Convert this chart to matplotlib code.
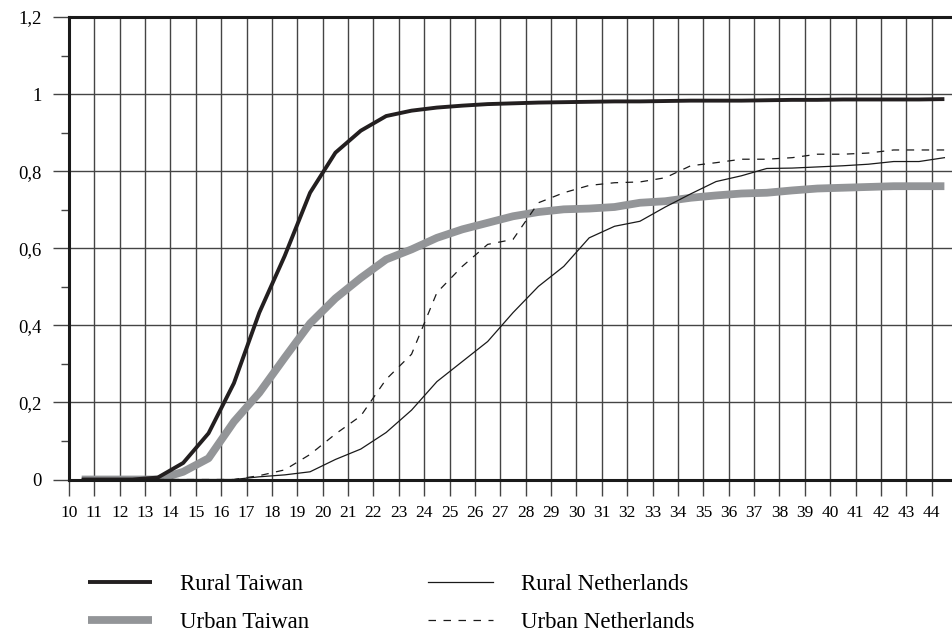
import matplotlib
matplotlib.use("Agg")
import matplotlib.pyplot as plt
from matplotlib.ticker import FixedLocator, FixedFormatter

plt.rcParams['font.family'] = ['Liberation Serif', 'DejaVu Serif']

# ---- data ----
ages = [10.5, 11.5, 12.5, 13.5, 14.5, 15.5, 16.5, 17.5, 18.5, 19.5, 20.5, 21.5,
        22.5, 23.5, 24.5, 25.5, 26.5, 27.5, 28.5, 29.5, 30.5, 31.5, 32.5, 33.5,
        34.5, 35.5, 36.5, 37.5, 38.5, 39.5, 40.5, 41.5, 42.5, 43.5, 44.5]

rural_taiwan = [0, 0, 0, 0.005, 0.043, 0.12, 0.25, 0.433, 0.58, 0.744, 0.848, 0.905,
                0.943, 0.957, 0.965, 0.970, 0.974, 0.976, 0.978, 0.979, 0.980, 0.981,
                0.981, 0.982, 0.983, 0.983, 0.983, 0.984, 0.985, 0.985, 0.986, 0.986,
                0.986, 0.986, 0.987]

urban_taiwan = [0, 0, 0, 0, 0.02, 0.055, 0.15, 0.225, 0.316, 0.405, 0.47, 0.523,
                0.571, 0.597, 0.627, 0.649, 0.666, 0.683, 0.694, 0.701, 0.703, 0.707,
                0.718, 0.722, 0.731, 0.737, 0.742, 0.744, 0.750, 0.755, 0.757, 0.759,
                0.761, 0.761, 0.761]

rural_nl = [0, 0, 0, 0, 0, 0, 0, 0.007, 0.012, 0.02, 0.052, 0.079, 0.122, 0.18,
            0.254, 0.306, 0.358, 0.433, 0.501, 0.553, 0.627, 0.657, 0.670, 0.707,
            0.741, 0.773, 0.788, 0.807, 0.808, 0.811, 0.814, 0.818, 0.825, 0.825,
            0.835]

urban_nl = [0, 0, 0, 0, 0, 0, 0, 0.01, 0.025, 0.065, 0.118, 0.165, 0.26, 0.325,
            0.485, 0.553, 0.61, 0.623, 0.718, 0.744, 0.763, 0.770, 0.772, 0.783,
            0.814, 0.822, 0.831, 0.831, 0.835, 0.844, 0.844, 0.847, 0.855, 0.855,
            0.855]

x_ticks = list(range(10, 45))
x_tick_labels = [str(v) for v in x_ticks]
y_ticks = [0, 0.2, 0.4, 0.6, 0.8, 1.0, 1.2]
y_tick_labels = ['0', '0,2', '0,4', '0,6', '0,8', '1', '1,2']
y_minor_ticks = [0.1, 0.3, 0.5, 0.7, 0.9, 1.1]

series_labels = ['Rural Taiwan', 'Urban Taiwan', 'Rural Netherlands', 'Urban Netherlands']

# ---- figure ----
fig = plt.figure(figsize=(9.52, 6.41), dpi=100)
ax = fig.add_axes([69/952, (641-479.5)/641, 1 - 69/952, (479.5-17)/641])

grid_col = '#444444'
ax.set_xlim(10, 44.8)
ax.set_ylim(0, 1.2)

ax.xaxis.set_major_locator(FixedLocator(x_ticks))
ax.xaxis.set_major_formatter(FixedFormatter(x_tick_labels))
ax.yaxis.set_major_locator(FixedLocator(y_ticks))
ax.yaxis.set_major_formatter(FixedFormatter(y_tick_labels))
ax.yaxis.set_minor_locator(FixedLocator(y_minor_ticks))

ax.grid(True, which='major', color=grid_col, linewidth=1.0, zorder=0)
ax.set_axisbelow(True)

ax.tick_params(axis='x', which='major', direction='out', length=11.5, width=1.0,
               color=grid_col, labelsize=12.5, pad=7)
ax.tick_params(axis='y', which='major', direction='out', length=11.5, width=1.0,
               color=grid_col, labelsize=13.5, pad=8)
ax.tick_params(axis='y', which='minor', direction='out', length=6, width=1.0,
               color=grid_col)

for side in ['left', 'bottom', 'top']:
    ax.spines[side].set_linewidth(2.2)
    ax.spines[side].set_color('#1a1a1a')
    ax.spines[side].set_zorder(5)
ax.spines['right'].set_visible(False)

l2, = ax.plot(ages, urban_taiwan, color='#939598', linewidth=5.6,
              solid_capstyle='butt', solid_joinstyle='round', zorder=3)
l1, = ax.plot(ages, rural_taiwan, color='#231f20', linewidth=2.8,
              solid_capstyle='butt', solid_joinstyle='round', zorder=4)
l3, = ax.plot(ages, rural_nl, color='#1a1a1a', linewidth=0.9, zorder=4)
l4, = ax.plot(ages, urban_nl, color='#1a1a1a', linewidth=0.9,
              linestyle=(0, (6, 6)), zorder=4)

leg = fig.legend([l1, l2, l3, l4], series_labels, ncol=2,
                 loc='upper left', bbox_to_anchor=(88/952, 1 - 574/641),
                 frameon=False, fontsize=16.5, handlelength=2.8,
                 handletextpad=1.22, columnspacing=5.2, labelspacing=0.72,
                 borderpad=0, borderaxespad=0)

fig.savefig('out.png', dpi=100)
